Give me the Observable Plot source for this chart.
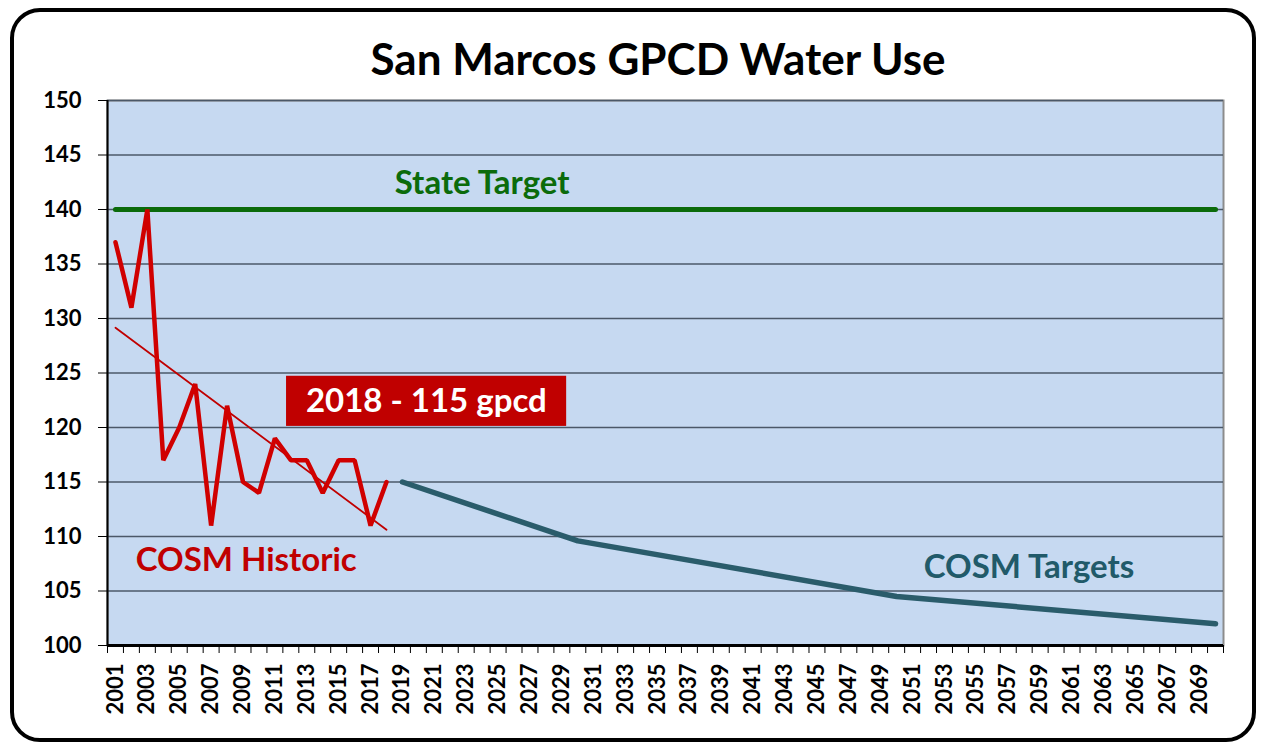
<!DOCTYPE html>
<html><head><meta charset="utf-8">
<script src="https://cdn.jsdelivr.net/npm/d3@7"></script>
<script src="https://cdn.jsdelivr.net/npm/@observablehq/plot@0.6"></script>
<style>
body{margin:0;background:#fff;font-family:Lato,"Open Sans",sans-serif}
#wrap{position:relative;width:1262px;height:746px;overflow:hidden}
#border{position:absolute;left:10px;top:8px;width:1238px;height:726px;border:4px solid #000;border-radius:30px;pointer-events:none}
#title{height:80px;box-sizing:border-box;padding-top:33px;line-height:50px;font-size:44px;font-weight:700;text-align:center;color:#000;padding-left:54px}
svg{display:block}
</style></head>
<body>
<div id="wrap">
<div id="title">San Marcos GPCD Water Use</div>
<div id="chart"></div>
<div id="border"></div>
</div>
<script>
const histYears = [2001,2002,2003,2004,2005,2006,2007,2008,2009,2010,2011,2012,2013,2014,2015,2016,2017,2018];
const histValues = [137,131,140,117,120,124,111,122,115,114,119,117,117,114,117,117,111,115];
const targetYears = [2019,2030,2050,2070];
const targetValues = [115,109.6,104.5,102];
const stateYears = [2001,2070];
const stateValues = [140,140];
const xTickLabels = [2001,2003,2005,2007,2009,2011,2013,2015,2017,2019,2021,2023,2025,2027,2029,2031,2033,2035,2037,2039,2041,2043,2045,2047,2049,2051,2053,2055,2057,2059,2061,2063,2065,2067,2069];
const yTickLabels = [100,105,110,115,120,125,130,135,140,145,150];
const labelTexts = ["State Target","COSM Historic","COSM Targets"];
const labelX = [2024.0,2009.2,2058.3];
const labelY = [142.4,107.8,107.2];
const labelColors = ["#0B6B0B","#C00000","#215A69"];
const boxText = "2018 - 115 gpcd";

const hist = histYears.map((y,i)=>({year:y, v:histValues[i]}));
const target = targetYears.map((y,i)=>({year:y, v:targetValues[i]}));
const state = stateYears.map((y,i)=>({year:y, v:stateValues[i]}));
const labels = labelTexts.map((t,i)=>({t, x:labelX[i], y:labelY[i], c:labelColors[i]}));
const boundaries = d3.range(histYears[0]-0.5, 2071, 1);

const chart = Plot.plot({
  width: 1262, height: 666,
  marginLeft: 107, marginRight: 39, marginTop: 20, marginBottom: 101,
  style: {fontFamily: "Lato, 'Open Sans', sans-serif", background: "transparent"},
  x: {type: "linear", domain: [2000.5, 2070.5], label: null},
  y: {domain: [100, 150], label: null},
  marks: [
    Plot.frame({fill: "#C6D9F1", stroke: "#8C8C8C", strokeWidth: 2}),
    Plot.gridY(yTickLabels, {stroke: "#4B5868", strokeOpacity: 1, strokeWidth: 1.5}),
    Plot.axisY({ticks: yTickLabels, tickSize: 9, tickPadding: 17, fontSize: 22, fontWeight: 700, fill: "#000", label: null, tickFormat: d => String(d)}),
    Plot.axisX({ticks: boundaries, tickSize: 8, tickFormat: () => "", label: null}),
    Plot.axisX({ticks: xTickLabels, tickSize: 0, tickPadding: 18, tickRotate: -90, fontSize: 22, fontWeight: 700, fill: "#000", label: null, tickFormat: d => String(d)}),
    Plot.ruleX([2000.5], {stroke: "#000", strokeWidth: 2}),
    Plot.ruleY([100], {stroke: "#000", strokeWidth: 3}),
    Plot.line(state, {x: "year", y: "v", stroke: "#0B6B0B", strokeWidth: 5}),
    Plot.line(target, {x: "year", y: "v", stroke: "#2A5C6B", strokeWidth: 5.5}),
    Plot.linearRegressionY(hist, {x: "year", y: "v", stroke: "#C00000", strokeWidth: 1.8, ci: 0}),
    Plot.line(hist, {x: "year", y: "v", stroke: "#D00000", strokeWidth: 4.5, strokeLinejoin: "miter"}),
    Plot.rect([{x1: 2011.73, x2: 2029.3, y1: 120.1, y2: 124.7}], {x1: "x1", x2: "x2", y1: "y1", y2: "y2", fill: "#C00000"}),
    Plot.text([{x: 2020.5, y: 122.4}], {x: "x", y: "y", text: () => boxText, fill: "#fff", fontSize: 33, fontWeight: 700}),
    Plot.text(labels, {x: "x", y: "y", text: "t", fill: "c", fontSize: 33, fontWeight: 700})
  ]
});
document.getElementById("chart").appendChild(chart);
</script>
</body></html>
